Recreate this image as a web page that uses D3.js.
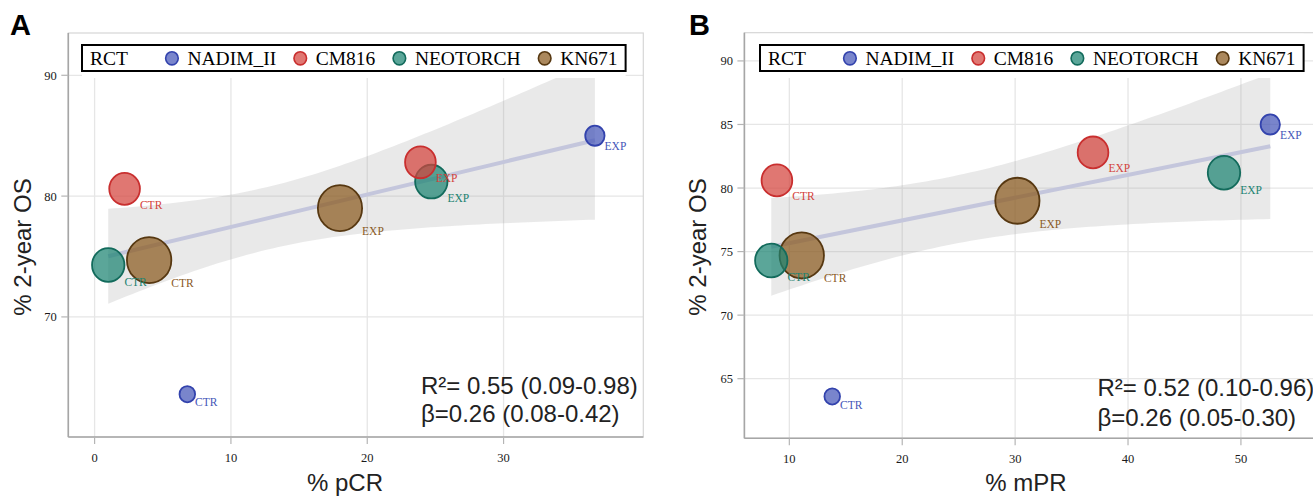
<!DOCTYPE html>
<html>
<head>
<meta charset="utf-8">
<script src="https://cdn.jsdelivr.net/npm/d3@7.9.0/dist/d3.min.js"></script>
<style>
  body { margin: 0; background: #fff; }
  svg { display: block; }
</style>
</head>
<body>
<svg width="1313" height="497"></svg>
<script>
// trials, arms and per-arm values ([EXP, CTR])
const trials = ["NADIM_II", "CM816", "NEOTORCH", "KN671"];
const arms = ["EXP", "CTR"];
const sampleSize = [[57, 29], [179, 179], [202, 202], [397, 400]];
const os2y = [[85.0, 63.6], [82.8, 80.6], [81.2, 74.3], [79.0, 74.7]];
const pcr = [[36.7, 6.8], [23.9, 2.2], [24.7, 1.0], [18.0, 4.0]];
const mpr = [[52.6, 13.8], [36.9, 8.9], [48.5, 8.4], [30.2, 11.1]];

const xTicksA = [0, 10, 20, 30];
const yTicksA = [70, 80, 90];
const xTicksB = [10, 20, 30, 40, 50];
const yTicksB = [65, 70, 75, 80, 85, 90];

const statsA = ["R\u00b2= 0.55 (0.09-0.98)", "\u03b2=0.26 (0.08-0.42)"];
const statsB = ["R\u00b2= 0.52 (0.10-0.96)", "\u03b2=0.26 (0.05-0.30)"];

const baseColors = ["#4556b8", "#d4433c", "#1c8371", "#8a5a1f"];
const strokeColors = ["#3343ad", "#c92f2f", "#136b5c", "#573811"];

const serif = "'Liberation Serif', 'Times New Roman', serif";
const sans = "'Liberation Sans', Arial, sans-serif";

const svg = d3.select("svg");

// bubble area proportional to arm size
const rScale = d3.scaleRadial().domain([29, 400]).range([7.8, 22.2]);

function weightedFit(xs, ys, ws) {
  const sw = d3.sum(ws);
  const mx = d3.sum(xs, (x, i) => x * ws[i]) / sw;
  const my = d3.sum(ys, (y, i) => y * ws[i]) / sw;
  let sxx = 0, sxy = 0;
  xs.forEach((x, i) => {
    sxx += ws[i] * (x - mx) ** 2;
    sxy += ws[i] * (x - mx) * (ys[i] - my);
  });
  const b = sxy / sxx, a = my - b * mx;
  let rss = 0;
  xs.forEach((x, i) => { rss += ws[i] * (ys[i] - a - b * x) ** 2; });
  const s2 = rss / (xs.length - 2);
  const t = 2.447; // t(0.975, df = 6)
  return {
    fit: x => a + b * x,
    half: x => t * Math.sqrt(s2 * (1 / sw + (x - mx) ** 2 / sxx))
  };
}

const panels = [
  { id: "A", letterX: 10, xVals: pcr, xLim: [-1.93, 40.25], xRange: [68.3, 643.3],
    yLim: [60.06, 93.5], yRange: [437, 33], xTicks: xTicksA, yTicks: yTicksA,
    xTitle: "% pCR", xTitleX: 345, yTitleX: 31, stats: statsA, statsX: 421, statsY: 393.5,
    statsGap: 28.4, legendX: 82, order: [2, 1, 0, 3] },
  { id: "B", letterX: 689, xVals: mpr, xLim: [6.02, 57.5], xRange: [744.4, 1325.6],
    yLim: [60.31, 92.22], yRange: [438.3, 32.7], xTicks: xTicksB, yTicks: yTicksB,
    xTitle: "% mPR", xTitleX: 1026, yTitleX: 706, stats: statsB, statsX: 1097.5, statsY: 395.7,
    statsGap: 30.5, legendX: 760, order: [3, 1, 0, 2] }
];

panels.forEach(p => {
  const x = d3.scaleLinear().domain(p.xLim).range(p.xRange);
  const y = d3.scaleLinear().domain(p.yLim).range(p.yRange);
  const [left, right] = p.xRange;
  const [bottom, top] = p.yRange;
  const g = svg.append("g");

  g.append("clipPath").attr("id", "clip" + p.id)
    .append("rect").attr("x", left).attr("y", top)
    .attr("width", right - left).attr("height", bottom - top);

  // gridlines
  g.selectAll(".hg").data(p.yTicks).join("line")
    .attr("x1", left).attr("x2", right)
    .attr("y1", d => y(d)).attr("y2", d => y(d))
    .attr("stroke", "#e6e6e6").attr("stroke-width", 1.3);
  g.selectAll(".vg").data(p.xTicks).join("line")
    .attr("x1", d => x(d)).attr("x2", d => x(d))
    .attr("y1", 78).attr("y2", bottom)
    .attr("stroke", "#e6e6e6").attr("stroke-width", 1.3);

  // points
  const pts = [];
  p.order.forEach(ti => {
    arms.forEach((arm, ai) => {
      pts.push({ trial: ti, arm, xv: p.xVals[ti][ai], yv: os2y[ti][ai], n: sampleSize[ti][ai] });
    });
  });

  // weighted regression + 95% band
  const reg = weightedFit(pts.map(d => d.xv), pts.map(d => d.yv), pts.map(d => d.n));
  const [xmin, xmax] = d3.extent(pts, d => d.xv);
  const xs = d3.range(0, 81).map(i => xmin + (xmax - xmin) * i / 80);
  const plot = g.append("g").attr("clip-path", `url(#clip${p.id})`);
  plot.append("path")
    .attr("d", d3.area().x(d => x(d))
      .y0(d => y(reg.fit(d) - reg.half(d)))
      .y1(d => y(reg.fit(d) + reg.half(d)))(xs))
    .attr("fill", "#999").attr("fill-opacity", 0.22);
  plot.append("line")
    .attr("x1", x(xmin)).attr("y1", y(reg.fit(xmin)))
    .attr("x2", x(xmax)).attr("y2", y(reg.fit(xmax)))
    .attr("stroke", "#c4c6dc").attr("stroke-width", 4);

  plot.selectAll(".pt").data(pts).join("ellipse")
    .attr("cx", d => x(d.xv)).attr("cy", d => y(d.yv))
    .attr("rx", d => rScale(d.n)).attr("ry", d => rScale(d.n) * 1.04)
    .attr("fill", d => baseColors[d.trial]).attr("fill-opacity", 0.72)
    .attr("stroke", d => strokeColors[d.trial]).attr("stroke-width", 1.8);

  plot.selectAll(".lab").data(pts).join("text")
    .attr("x", d => x(d.xv) + rScale(d.n))
    .attr("y", d => y(d.yv) + rScale(d.n) * 1.04 + 4)
    .attr("fill", d => baseColors[d.trial])
    .attr("font-family", serif).attr("font-size", 11.5)
    .text(d => d.arm);

  // frame: light border, darker axis lines
  g.append("rect").attr("x", left).attr("y", top)
    .attr("width", right - left).attr("height", bottom - top)
    .attr("fill", "none").attr("stroke", "#d6d6d6").attr("stroke-width", 1.2);
  g.append("line").attr("x1", left).attr("x2", left).attr("y1", top).attr("y2", bottom)
    .attr("stroke", "#a6a6a6").attr("stroke-width", 1.6);
  g.append("line").attr("x1", left).attr("x2", right).attr("y1", bottom).attr("y2", bottom)
    .attr("stroke", "#a6a6a6").attr("stroke-width", 1.6);

  // ticks
  g.selectAll(".yt").data(p.yTicks).join("line")
    .attr("x1", left - 7).attr("x2", left).attr("y1", d => y(d)).attr("y2", d => y(d))
    .attr("stroke", "#b5b5b5").attr("stroke-width", 1.2);
  g.selectAll(".xt").data(p.xTicks).join("line")
    .attr("x1", d => x(d)).attr("x2", d => x(d)).attr("y1", bottom).attr("y2", bottom + 7)
    .attr("stroke", "#b5b5b5").attr("stroke-width", 1.2);
  g.selectAll(".ytl").data(p.yTicks).join("text")
    .attr("x", left - 11.5).attr("y", d => y(d) + 4.5)
    .attr("text-anchor", "end").attr("font-family", serif).attr("font-size", 12.5)
    .attr("fill", "#1a1a1a").text(d => d);
  g.selectAll(".xtl").data(p.xTicks).join("text")
    .attr("x", d => x(d)).attr("y", bottom + 25)
    .attr("text-anchor", "middle").attr("font-family", serif).attr("font-size", 12.5)
    .attr("fill", "#1a1a1a").text(d => d);

  // axis titles
  g.append("text").attr("x", p.xTitleX).attr("y", 491)
    .attr("text-anchor", "middle").attr("font-family", sans).attr("font-size", 24)
    .attr("fill", "#222").text(p.xTitle);
  g.append("text").attr("transform", `translate(${p.yTitleX},247) rotate(-90)`)
    .attr("text-anchor", "middle").attr("font-family", sans).attr("font-size", 24)
    .attr("fill", "#222").text("% 2-year OS");

  // stats annotation
  g.selectAll(".st").data(p.stats).join("text")
    .attr("x", p.statsX).attr("y", (d, i) => p.statsY + i * p.statsGap)
    .attr("font-family", sans).attr("font-size", 24).attr("fill", "#222")
    .text(d => d);

  // panel letter
  svg.append("text").attr("x", p.letterX).attr("y", 35)
    .attr("font-family", sans).attr("font-weight", "bold").attr("font-size", 29)
    .attr("fill", "#000").text(p.id);

  // legend
  const leg = g.append("g");
  const backdrop = leg.append("rect").attr("fill", "#fff");
  const box = leg.append("rect").attr("fill", "#fff")
    .attr("stroke", "#000").attr("stroke-width", 2);
  const rct = leg.append("text").attr("x", p.legendX + 8).attr("y", 65)
    .attr("font-family", serif).attr("font-size", 19.5).text("RCT");
  let cx = p.legendX + 8 + rct.node().getComputedTextLength() + 44;
  let endX = cx;
  trials.forEach((t, i) => {
    leg.append("ellipse").attr("cx", cx).attr("cy", 58.3).attr("rx", 6.3).attr("ry", 6.6)
      .attr("fill", baseColors[i]).attr("fill-opacity", 0.72)
      .attr("stroke", strokeColors[i]).attr("stroke-width", 1.6);
    const tx = leg.append("text").attr("x", cx + 15.5).attr("y", 65)
      .attr("font-family", serif).attr("font-size", 19.5).text(t);
    endX = cx + 15.5 + tx.node().getComputedTextLength();
    cx = endX + 24;
  });
  const boxRight = endX + 8;
  backdrop.attr("x", p.legendX).attr("y", top + 1)
    .attr("width", boxRight - p.legendX).attr("height", 78 - top - 1);
  box.attr("x", p.legendX).attr("y", 45)
    .attr("width", boxRight - p.legendX).attr("height", 26);
});
</script>
</body>
</html>
